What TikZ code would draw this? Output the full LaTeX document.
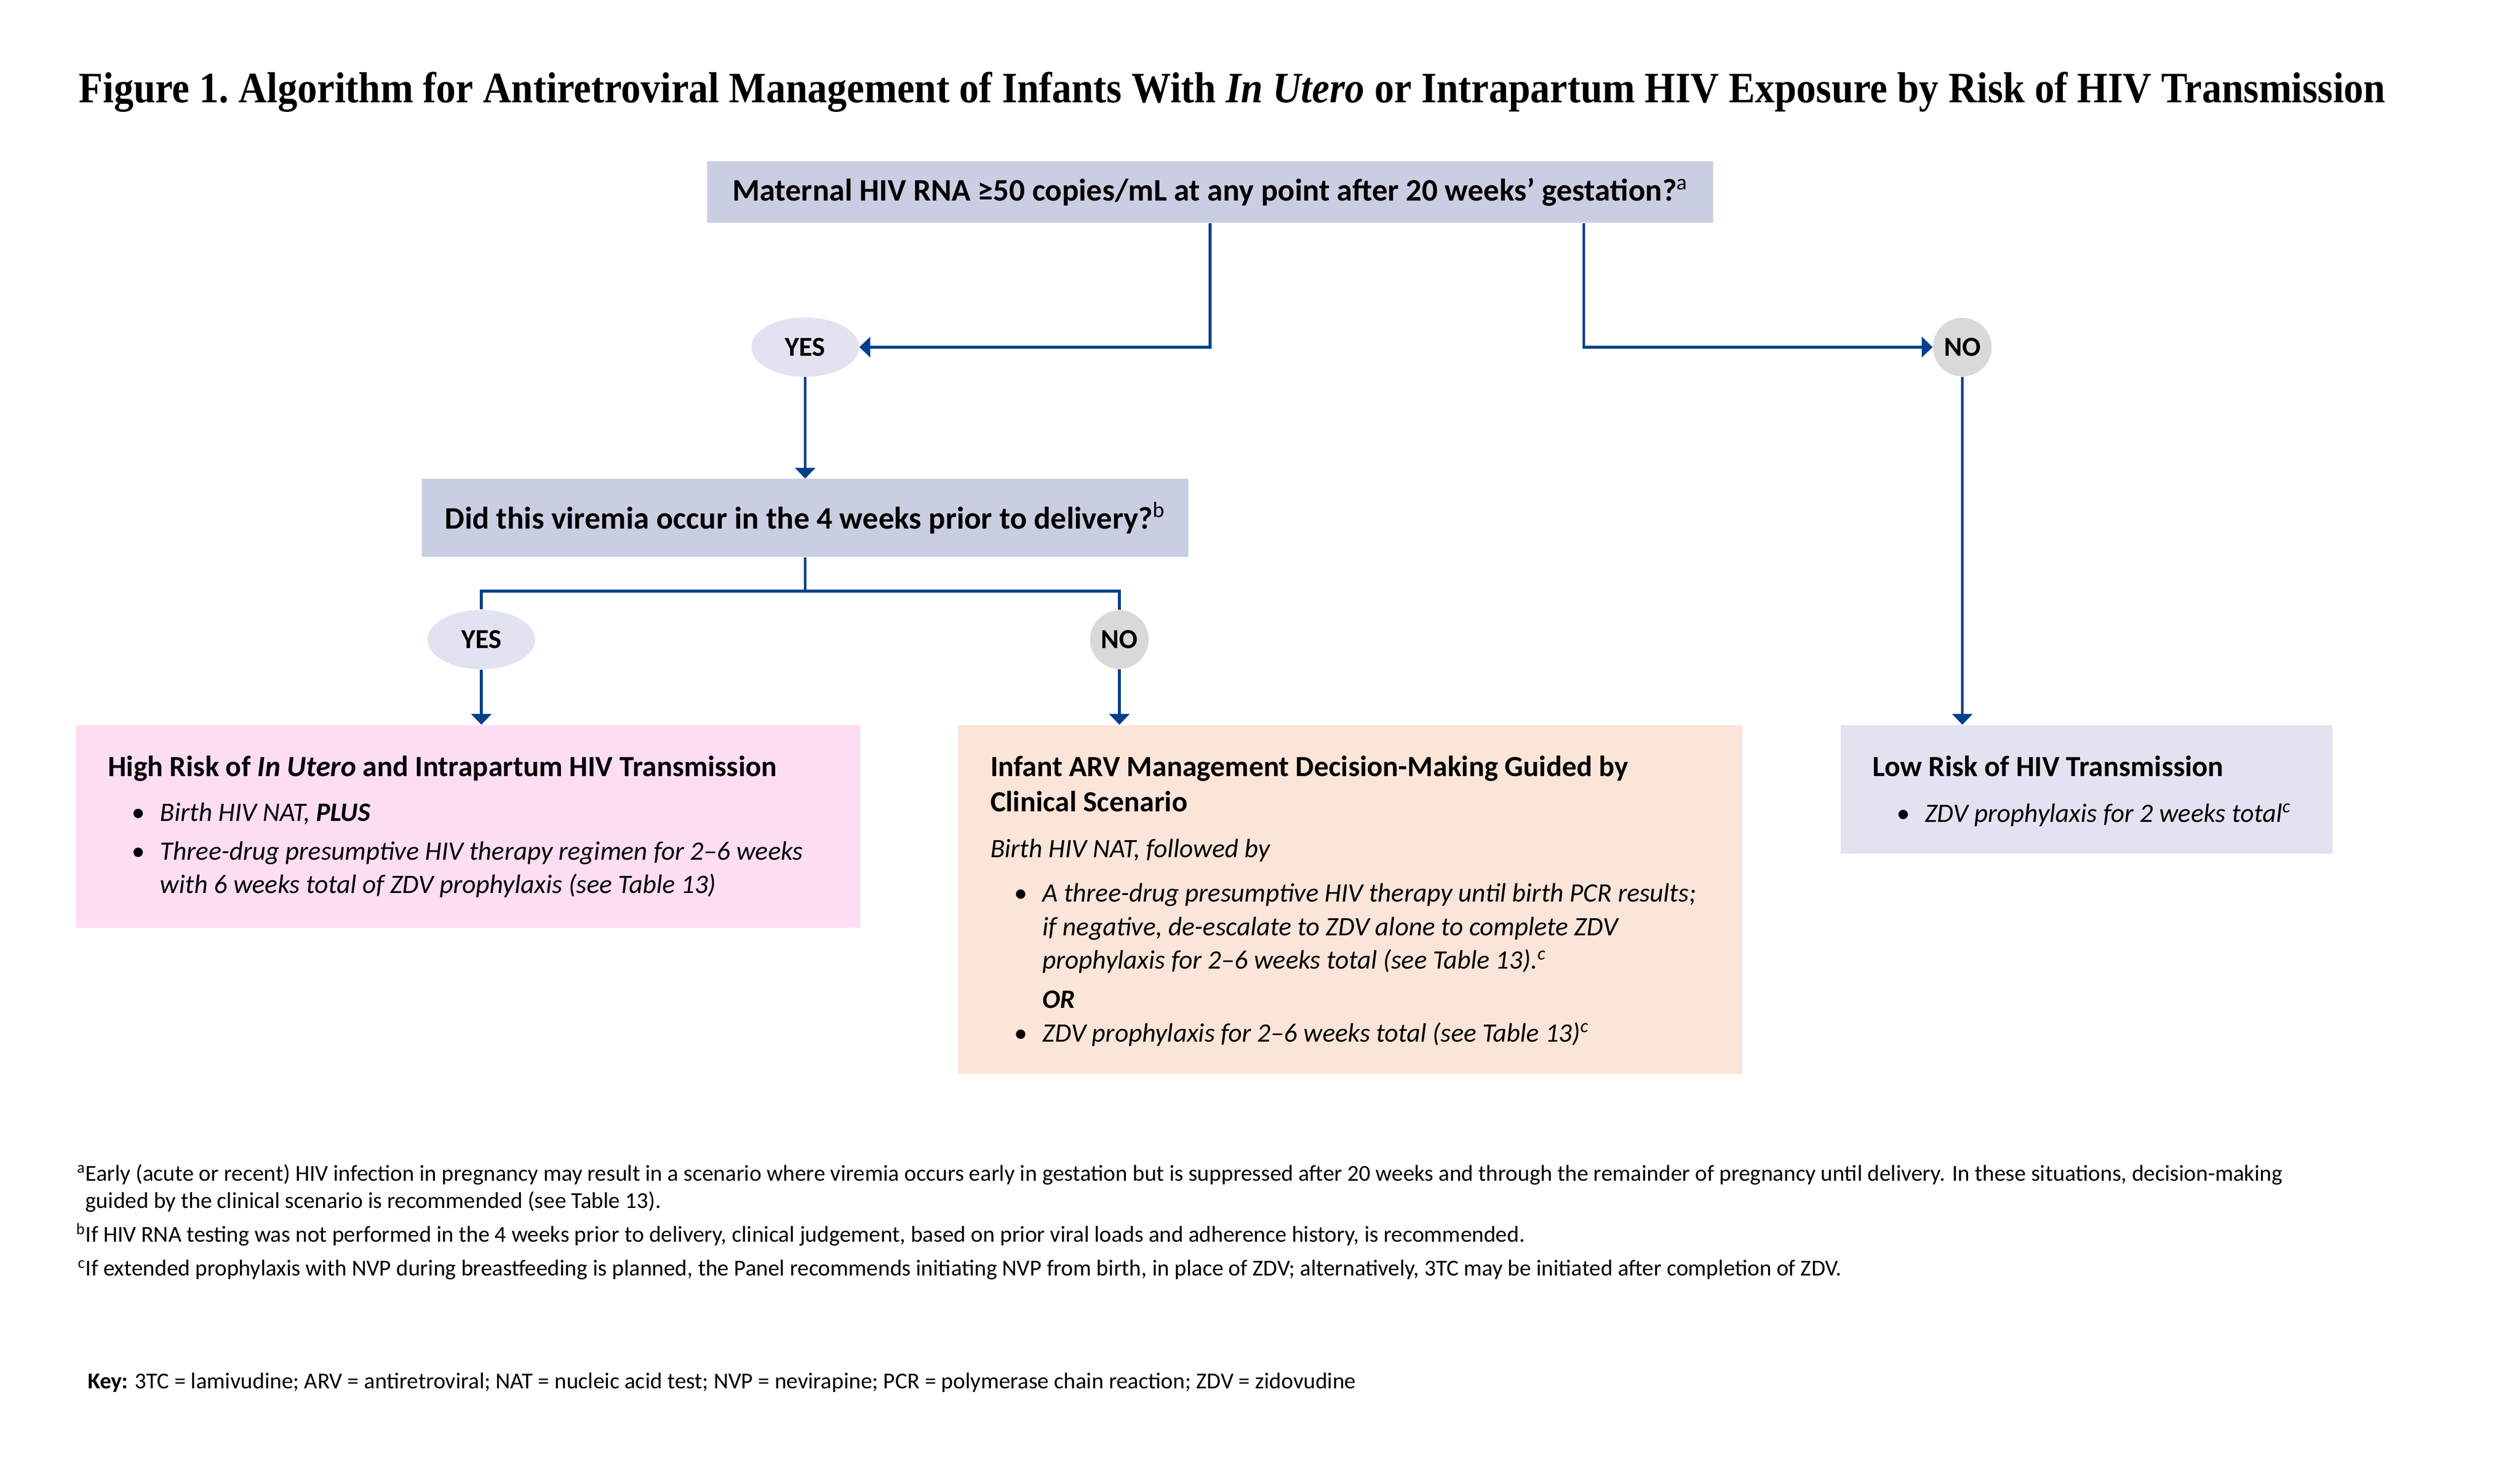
\documentclass[tikz,border=0pt]{standalone}
\usepackage{fontspec}
\setmainfont{Carlito}
\newfontfamily\titlefont[FakeStretch=0.905]{Liberation Serif}
\usetikzlibrary{shapes.geometric,arrows.meta,calc}
\definecolor{flowblue}{RGB}{0,64,140}
\definecolor{askfill}{RGB}{201,206,227}
\definecolor{yesfill}{RGB}{225,227,241}
\definecolor{nofill}{RGB}{217,217,217}
\definecolor{highfill}{RGB}{252,221,241}
\definecolor{midfill}{RGB}{250,229,216}
\definecolor{lowfill}{RGB}{225,227,241}
\newlength\gu
\setlength\gu{0.90725pt}
\tikzset{
  question/.style={rectangle,fill=askfill,inner sep=0,
    font=\fontsize{17.7}{21}\selectfont\bfseries},
  yesnode/.style={ellipse,fill=yesfill,inner sep=0,minimum width=67*\gu,
    minimum height=37*\gu,font=\fontsize{15.5}{18}\selectfont\bfseries},
  nonode/.style={circle,fill=nofill,inner sep=0,minimum size=36.5*\gu,
    font=\fontsize{15.5}{18}\selectfont\bfseries},
  outcome/.style={rectangle,inner sep=0,anchor=north west},
  boxtext/.style={anchor=base west,inner sep=0},
  flow/.style={draw=flowblue,line width=1.6pt}
}
\newcommand{\boxbody}[2]{% width, content
  \parbox[t]{#1}{\raggedright\fontsize{15}{19}\selectfont #2}}
\newcommand{\boxhead}[1]{% bold heading of a box
  {\fontsize{16.5}{20}\selectfont\bfseries #1\par}}
\newcommand{\bul}[1]{% bullet with hanging lines, break with \newline
  \hangindent=32.5\gu\hangafter=1
  \noindent\makebox[32.5\gu][l]{\hspace*{19\gu}\makebox[0pt]{\textbullet}}#1\par}

\begin{document}
\begin{tikzpicture}[x=0.90725pt,y=-0.90725pt,>={Triangle[length=6.1pt,width=11.3pt]}]
\useasboundingbox (0,0) rectangle (1568,914.7);

% Title
\node[anchor=base west,inner sep=0] (title) at (49,63.7)
  {\titlefont\fontsize{24.5}{28}\selectfont\bfseries\frenchspacing Figure 1. Algorithm for Antiretroviral Management of Infants With \textit{In Utero} or Intrapartum HIV Exposure by Risk of HIV Transmission};

% Questions
\node[question,minimum width=626*\gu,minimum height=38.3*\gu] (maternal) at (753,119.6)
  {Maternal HIV RNA ≥50 copies/mL at any point after 20 weeks’ gestation?\textsuperscript{\mdseries a}};
\node[question,minimum width=477*\gu,minimum height=48.5*\gu] (viremia) at (501,322.3)
  {Did this viremia occur in the 4 weeks prior to delivery?\textsuperscript{\mdseries b}};

% Answers
\node[yesnode] (yesA) at (501,216) {YES};
\node[nonode] (noA) at (1221,216) {NO};
\node[yesnode] (yesB) at (299.5,398) {YES};
\node[nonode] (noB) at (696.5,398) {NO};

% Outcome boxes
\node[outcome,fill=highfill,minimum width=488*\gu,minimum height=126*\gu] (high) at (47,451) {};
\node[outcome,fill=midfill,minimum width=488*\gu,minimum height=217*\gu] (mid) at (596,451) {};
\node[outcome,fill=lowfill,minimum width=306*\gu,minimum height=80*\gu] (low) at (1145,451) {};

\node[boxtext] (highText) at ($(high.north west)+(20,32)$) {\boxbody{470\gu}{%
  \boxhead{High Risk of \textit{In Utero} and Intrapartum HIV Transmission}\vspace{6.4pt}
  \bul{\textit{Birth HIV NAT, \textbf{PLUS}}}\vspace{2.8pt}
  \bul{\textit{Three-drug presumptive HIV therapy regimen for 2--6 weeks\newline with 6 weeks total of ZDV prophylaxis (see Table 13)}}}};
\node[boxtext] (midText) at ($(mid.north west)+(20,32)$) {\boxbody{470\gu}{%
  \boxhead{Infant ARV Management Decision-Making Guided by\newline Clinical Scenario}\vspace{6.8pt}
  \textit{Birth HIV NAT, followed by}\par\vspace{6.1pt}
  \bul{\textit{A three-drug presumptive HIV therapy until birth PCR results;\newline if negative, de-escalate to ZDV alone to complete ZDV\newline prophylaxis for 2--6 weeks total (see Table 13).\textsuperscript{c}}}\vspace{3pt}
  \hspace*{32.5\gu}\textbf{\textit{OR}}\par
  \bul{\textit{ZDV prophylaxis for 2--6 weeks total (see Table 13)\textsuperscript{c}}}}};
\node[boxtext] (lowText) at ($(low.north west)+(20,32)$) {\boxbody{290\gu}{%
  \boxhead{Low Risk of HIV Transmission}\vspace{6.9pt}
  \bul{\textit{ZDV prophylaxis for 2 weeks total\textsuperscript{c}}}}};

% Connectors
\coordinate (noSplit) at ($(maternal.south)+(232.5,0)$);
\coordinate (fork) at ($(viremia.south)+(0,21)$);
\draw[flow,->] (maternal.south) |- (yesA.east);
\draw[flow,->] (noSplit) |- (noA.west);
\draw[flow,->] (yesA.south) -- (viremia.north);
\draw[flow] (viremia.south) -- (fork) -| (yesB.north);
\draw[flow] (fork) -| (noB.north);
\draw[flow,->] (yesB.south) -- (yesB.south |- high.north);
\draw[flow,->] (noB.south) -- (noB.south |- mid.north);
\draw[flow,->] (noA.south) -- (noA.south |- low.north);

% Footnotes
\node[boxtext] (noteA) at (53,734.8) {\parbox[t]{1480\gu}{\fontsize{12.85}{15.6}\selectfont
  \leavevmode\llap{\textsuperscript{a}}Early (acute or recent) HIV infection in pregnancy may result in a scenario where viremia occurs early in gestation but is suppressed after 20 weeks and through the remainder of pregnancy until delivery. In these situations, decision-making\\guided by the clinical scenario is recommended (see Table 13).}};
\node[boxtext] (noteB) at (53,773) {\fontsize{12.85}{15.6}\selectfont
  \llap{\textsuperscript{b}}If HIV RNA testing was not performed in the 4 weeks prior to delivery, clinical judgement, based on prior viral loads and adherence history, is recommended.};
\node[boxtext] (noteC) at (53,794) {\fontsize{12.85}{15.6}\selectfont
  \llap{\textsuperscript{c}}If extended prophylaxis with NVP during breastfeeding is planned, the Panel recommends initiating NVP from birth, in place of ZDV; alternatively, 3TC may be initiated after completion of ZDV.};

% Key
\node[boxtext] (key) at (54.4,864) {\fontsize{12.85}{15.6}\selectfont
  \textbf{Key:} 3TC = lamivudine; ARV = antiretroviral; NAT = nucleic acid test; NVP = nevirapine; PCR = polymerase chain reaction; ZDV = zidovudine};
\end{tikzpicture}
\end{document}
